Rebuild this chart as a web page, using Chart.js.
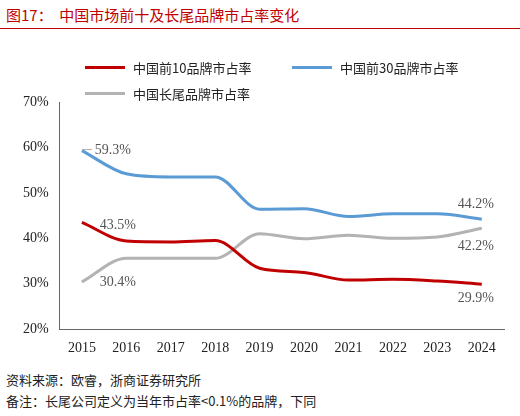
<!DOCTYPE html>
<html><head><meta charset="utf-8">
<script src="https://cdn.jsdelivr.net/npm/chart.js@4/dist/chart.umd.min.js"></script>
<style>
body{margin:0;background:#fff;width:520px;height:416px;overflow:hidden;font-family:"Liberation Serif","Noto Sans CJK SC",serif;}
#title{position:absolute;left:6px;top:4px;font-size:15px;color:#c00000;font-family:"Noto Sans CJK SC";}
#rule{position:absolute;left:0;top:28px;width:520px;height:1px;background:#c00000;}
#wrap{position:absolute;left:0;top:40px;width:520px;height:320px;}
.foot{position:absolute;left:6px;font-size:13px;color:#222;font-family:"Noto Sans CJK SC";}
.lg{position:absolute;font-size:13px;color:#222;font-family:"Noto Sans CJK SC";display:flex;align-items:center;}
.lg i{display:inline-block;width:40px;height:3px;margin-right:8px;}
</style></head><body>
<div id="title">图17：&nbsp;&nbsp;中国市场前十及长尾品牌市占率变化</div>
<div id="rule"></div>
<div id="wrap"><canvas id="c"></canvas></div>
<div class="lg" style="left:85px;top:58px"><i style="background:#c00000"></i>中国前10品牌市占率</div>
<div class="lg" style="left:292px;top:58px"><i style="background:#5b9bd5"></i>中国前30品牌市占率</div>
<div class="lg" style="left:85px;top:84px"><i style="background:#b3b3b3"></i>中国长尾品牌市占率</div>
<div class="foot" style="top:370px">资料来源：欧睿，浙商证券研究所</div>
<div class="foot" style="top:391px">备注：长尾公司定义为当年市占率&lt;0.1%的品牌，下同</div>
<script>
const years = ['2015','2016','2017','2018','2019','2020','2021','2022','2023','2024'];
const top10 = [43.5,39.4,39.2,39.5,33.4,32.5,30.8,31.0,30.6,29.9];
const top30 = [59.3,54.2,53.5,53.5,46.4,46.5,44.8,45.4,45.4,44.2];
const longTail = [30.4,35.6,35.6,35.6,41.0,39.9,40.7,40.0,40.3,42.2];
const yTicks = [20,30,40,50,60,70];

// labels: [dataset index, point index, dx, dy]
const labelSpots = [[0,0,36,3],[0,9,-6,14],[1,0,31,0],[1,9,-6,-15],[2,0,36,0],[2,9,-6,18]];
const pointLabels = {
  id:'pointLabels',
  afterDatasetsDraw(chart){
    const ctx = chart.ctx;
    ctx.save();
    ctx.font = '14px "Liberation Serif"';
    ctx.fillStyle = '#555';
    ctx.textAlign = 'center';
    ctx.textBaseline = 'middle';
    labelSpots.forEach(([d,i,dx,dy])=>{
      const p = chart.getDatasetMeta(d).data[i];
      const v = chart.data.datasets[d].data[i];
      ctx.fillText(v.toFixed(1)+'%', p.x+dx, p.y+dy);
    });
    // leader line for 59.3%
    const p = chart.getDatasetMeta(1).data[0];
    ctx.strokeStyle='#aaa'; ctx.lineWidth=1;
    ctx.beginPath(); ctx.moveTo(p.x,p.y-1); ctx.lineTo(p.x+10,p.y-1); ctx.stroke();
    ctx.restore();
  }
};

const mk = (label,data,color)=>({label,data,borderColor:color,backgroundColor:color,borderWidth:3,pointRadius:0,tension:0.4,cubicInterpolationMode:'monotone'});

new Chart(document.getElementById('c'),{
  type:'line',
  data:{labels:years,datasets:[mk('中国前10品牌市占率',top10,'#c00000'),mk('中国前30品牌市占率',top30,'#5b9bd5'),mk('中国长尾品牌市占率',longTail,'#b3b3b3')]},
  options:{
    responsive:true,maintainAspectRatio:false,animation:false,
    layout:{padding:{left:20,right:16,top:62,bottom:0}},
    plugins:{legend:{display:false},tooltip:{enabled:false}},
    scales:{
      x:{offset:true,grid:{display:false,drawTicks:true},border:{color:'#666'},
         ticks:{color:'#222',font:{family:'"Liberation Serif"',size:14}}},
      y:{min:20,max:70,afterBuildTicks:ax=>{ax.ticks=yTicks.map(v=>({value:v}));},
         grid:{display:false},border:{color:'#666'},
         ticks:{color:'#222',callback:v=>v+'%',font:{family:'"Liberation Serif"',size:14}}}
    }
  },
  plugins:[pointLabels]
});
</script>
</body></html>
